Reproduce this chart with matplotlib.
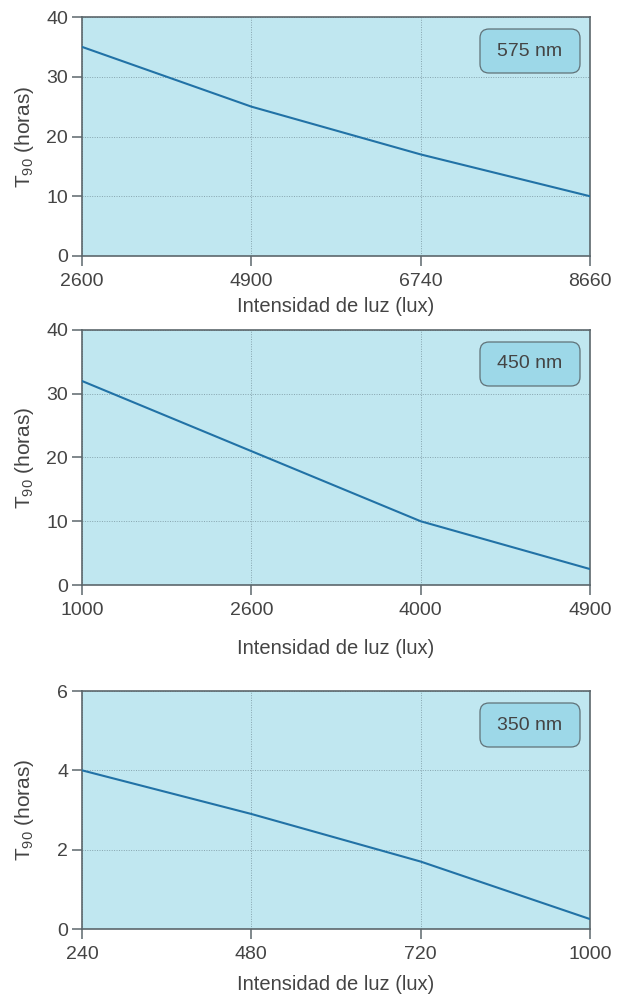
import matplotlib
matplotlib.use("Agg")
import matplotlib.pyplot as plt
from matplotlib.patches import FancyBboxPatch
from matplotlib.transforms import ScaledTranslation

plt.rcParams["font.family"] = ["Liberation Sans", "DejaVu Sans"]

# Three panels: T90 vs light intensity, one per wavelength
labels_575 = ["2600", "4900", "6740", "8660"]
t90_575 = [35, 25, 17, 10]

labels_450 = ["1000", "2600", "4000", "4900"]
t90_450 = [32, 21, 10, 2.5]

labels_350 = ["240", "480", "720", "1000"]
t90_350 = [4, 2.9, 1.7, 0.25]

wavelengths = ["575 nm", "450 nm", "350 nm"]
yticks_575 = [0, 10, 20, 30, 40]
yticks_450 = [0, 10, 20, 30, 40]
yticks_350 = [0, 2, 4, 6]

bg = "#c0e7f0"
box_fill = "#9dd8e8"
line_col = "#2172a6"
text_col = "#444444"
spine_col = "#5c676c"
grid_col = "#86a4ae"

fig = plt.figure(figsize=(6.29, 10.01), dpi=100)
W, H = 629, 1001
rects = [(17, 256), (330, 585), (691, 929)]  # top/bottom in pixels
xlabel_y = [306, 649, 985]
panels = [(labels_575, t90_575, yticks_575),
          (labels_450, t90_450, yticks_450),
          (labels_350, t90_350, yticks_350)]

for (top, bot), xly, (xl, yv, yt), wl in zip(rects, xlabel_y, panels, wavelengths):
    ax = fig.add_axes([82 / W, 1 - bot / H, (590 - 82) / W, (bot - top) / H])
    ax.set_facecolor(bg)
    xs = list(range(len(xl)))
    ax.plot(xs, yv, color=line_col, lw=1.5, zorder=3)
    ax.set_xlim(xs[0], xs[-1])
    ax.set_ylim(yt[0], yt[-1])
    ax.set_xticks(xs)
    ax.set_xticklabels(xl)
    ax.set_yticks(yt)
    ax.grid(True, color=grid_col, lw=0.7, linestyle=(0, (1, 1.5)), zorder=1)
    ax.tick_params(axis="both", direction="out", length=7, width=1.1,
                   color=spine_col, labelsize=14, labelcolor=text_col)
    ax.tick_params(axis="x", pad=5)
    ax.tick_params(axis="y", pad=3)
    for s in ax.spines.values():
        s.set_color(spine_col)
        s.set_linewidth(1.2)
    ax.set_xlabel("Intensidad de luz (lux)", fontsize=14.5, color=text_col)
    ax.xaxis.label.set_va("center")
    ax.xaxis.set_label_coords(0.5, (bot - xly) / (bot - top))
    ax.set_ylabel(r"T$_{\mathregular{90}}$ (horas)", fontsize=15,
                  color=text_col)
    ax.yaxis.label.set_va("center")
    ax.yaxis.set_label_coords((25 - 82) / (590 - 82), 0.5)

    # rounded label box in the upper-right corner
    tr = fig.dpi_scale_trans + ScaledTranslation(1, 1, ax.transAxes)
    box = FancyBboxPatch((-1.10, -0.56), 1.0, 0.44,
                         boxstyle="round,pad=0,rounding_size=0.09",
                         transform=tr, facecolor=box_fill,
                         edgecolor="#607278", lw=0.9, zorder=4)
    ax.add_patch(box)
    ax.text(-0.60, -0.34, wl, transform=tr, ha="center", va="center",
            fontsize=14, color=text_col, zorder=5)

fig.savefig("out.png", dpi=100)
